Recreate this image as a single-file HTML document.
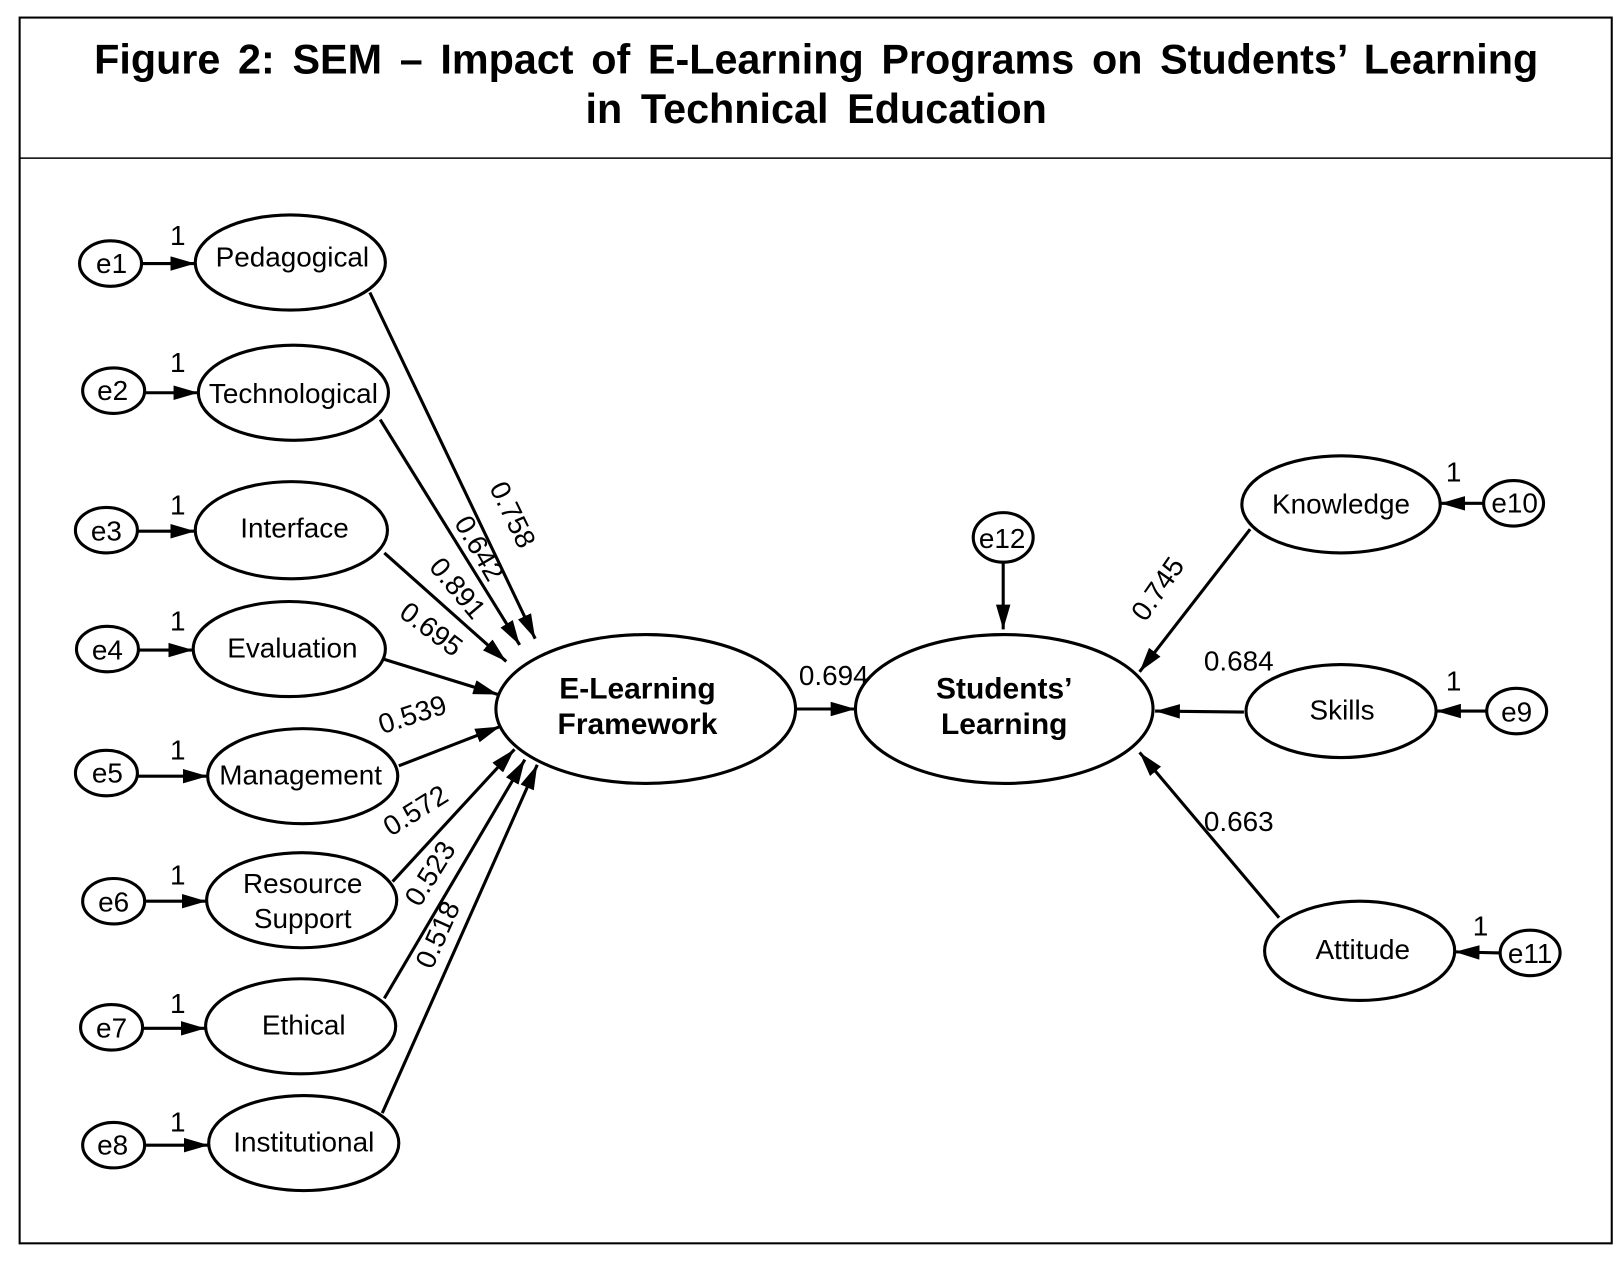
<!DOCTYPE html>
<html><head><meta charset="utf-8"><style>
html,body{margin:0;padding:0;background:#fff;}
svg{display:block;}
text{font-family:"Liberation Sans",Arial,sans-serif;fill:#000;}
</style></head><body>
<svg width="1620" height="1264" viewBox="0 0 1568 1223" preserveAspectRatio="none" xmlns="http://www.w3.org/2000/svg">
<defs>
<marker id="b" viewBox="0 0 24 14" refX="24" refY="7" markerWidth="24" markerHeight="14" markerUnits="userSpaceOnUse" orient="auto">
<path d="M0,0 L24,7 L0,14 z" fill="#000"/>
</marker>
</defs>
<rect x="19" y="17" width="1541" height="1186" fill="none" stroke="#000" stroke-width="2"/>
<line x1="19" y1="153" x2="1560" y2="153" stroke="#000" stroke-width="1.5"/>
<text x="790" y="71" text-anchor="middle" font-size="40" font-weight="bold" style="word-spacing:6px">Figure 2: SEM – Impact of E-Learning Programs on Students’ Learning</text>
<text x="790" y="119" text-anchor="middle" font-size="40" font-weight="bold" style="word-spacing:7px">in Technical Education</text>

<g fill="none" stroke="#000" stroke-width="3">
<ellipse cx="281" cy="254" rx="92" ry="46"/>
<ellipse cx="284" cy="380" rx="92" ry="46"/>
<ellipse cx="282" cy="513" rx="93" ry="47"/>
<ellipse cx="280" cy="628" rx="93" ry="46"/>
<ellipse cx="293" cy="751" rx="92" ry="46"/>
<ellipse cx="292" cy="871" rx="92" ry="46"/>
<ellipse cx="291" cy="993" rx="92" ry="46"/>
<ellipse cx="294" cy="1106" rx="92" ry="46"/>
<ellipse cx="107" cy="255" rx="30" ry="22"/>
<ellipse cx="110" cy="378" rx="30" ry="22"/>
<ellipse cx="103" cy="513" rx="30" ry="22"/>
<ellipse cx="104" cy="628" rx="30" ry="22"/>
<ellipse cx="103" cy="748" rx="30" ry="22"/>
<ellipse cx="110" cy="872" rx="30" ry="22"/>
<ellipse cx="108" cy="994" rx="30" ry="22"/>
<ellipse cx="110" cy="1108" rx="30" ry="22"/>
<ellipse cx="625" cy="686" rx="145" ry="72"/>
<ellipse cx="972" cy="686" rx="144" ry="72"/>
<ellipse cx="971" cy="520" rx="29" ry="24"/>
<ellipse cx="1298" cy="488" rx="96" ry="47"/>
<ellipse cx="1298" cy="688" rx="92" ry="45"/>
<ellipse cx="1316" cy="920" rx="92" ry="48"/>
<ellipse cx="1465" cy="487" rx="29" ry="22"/>
<ellipse cx="1468" cy="688" rx="29" ry="22"/>
<ellipse cx="1481" cy="922" rx="29" ry="22"/>
</g>

<g stroke="#000" stroke-width="3" marker-end="url(#b)">
<line x1="137" y1="255" x2="189" y2="255"/>
<line x1="140" y1="380" x2="192" y2="380"/>
<line x1="133" y1="514" x2="189" y2="514"/>
<line x1="134" y1="629" x2="187" y2="629"/>
<line x1="133" y1="751" x2="201" y2="751"/>
<line x1="140" y1="872" x2="200" y2="872"/>
<line x1="138" y1="995" x2="199" y2="995"/>
<line x1="140" y1="1108" x2="202" y2="1108"/>
<line x1="358" y1="283" x2="518" y2="618"/>
<line x1="368" y1="406" x2="503" y2="624"/>
<line x1="372" y1="535" x2="490" y2="640"/>
<line x1="372" y1="638" x2="482" y2="672"/>
<line x1="386" y1="741" x2="484" y2="703"/>
<line x1="380" y1="853" x2="498" y2="725"/>
<line x1="372" y1="966" x2="508" y2="735"/>
<line x1="370" y1="1077" x2="520" y2="740"/>
<line x1="770" y1="686" x2="828" y2="686"/>
<line x1="971" y1="544" x2="971" y2="609"/>
<line x1="1210" y1="512" x2="1103" y2="650"/>
<line x1="1204" y1="689" x2="1118" y2="688"/>
<line x1="1238" y1="888" x2="1103" y2="728"/>
<line x1="1436" y1="487" x2="1394" y2="487"/>
<line x1="1439" y1="688" x2="1390" y2="688"/>
<line x1="1452" y1="922" x2="1408" y2="921"/>
</g>

<g font-size="27" text-anchor="middle">
<text x="283" y="258">Pedagogical</text>
<text x="284" y="390">Technological</text>
<text x="285" y="520">Interface</text>
<text x="283" y="636">Evaluation</text>
<text x="291" y="759">Management</text>
<text x="293" y="864">Resource</text>
<text x="293" y="898">Support</text>
<text x="294" y="1001">Ethical</text>
<text x="294" y="1114">Institutional</text>
<text x="108" y="264">e1</text>
<text x="109" y="387">e2</text>
<text x="103" y="523">e3</text>
<text x="104" y="638">e4</text>
<text x="104" y="757">e5</text>
<text x="110" y="882">e6</text>
<text x="108" y="1004">e7</text>
<text x="109" y="1117">e8</text>
<text x="1298" y="497">Knowledge</text>
<text x="1299" y="696">Skills</text>
<text x="1319" y="928">Attitude</text>
<text x="1466" y="496">e10</text>
<text x="1468" y="698">e9</text>
<text x="1481" y="932">e11</text>
<text x="970" y="530">e12</text>
<text x="172" y="237">1</text>
<text x="172" y="360">1</text>
<text x="172" y="498">1</text>
<text x="172" y="610">1</text>
<text x="172" y="735">1</text>
<text x="172" y="856">1</text>
<text x="172" y="980">1</text>
<text x="172" y="1095">1</text>
<text x="1407" y="466">1</text>
<text x="1407" y="668">1</text>
<text x="1433" y="905">1</text>
<text x="807" y="663">0.694</text>
<text x="1199" y="649">0.684</text>
<text x="1199" y="804">0.663</text>
<text transform="translate(488,502) rotate(64)">0.758</text>
<text transform="translate(456,535) rotate(60)">0.642</text>
<text transform="translate(436,575) rotate(50)">0.891</text>
<text transform="translate(412,616) rotate(37)">0.695</text>
<text transform="translate(402,700) rotate(-18)">0.539</text>
<text transform="translate(407,792) rotate(-32)">0.572</text>
<text transform="translate(424,850) rotate(-58)">0.523</text>
<text transform="translate(432,908) rotate(-66)">0.518</text>
<text transform="translate(1128,575) rotate(-55)">0.745</text>
</g>
<g font-size="29" font-weight="bold" text-anchor="middle">
<text x="617" y="676">E-Learning</text>
<text x="617" y="710">Framework</text>
<text x="972" y="676">Students’</text>
<text x="972" y="710">Learning</text>
</g>
</svg>
</body></html>
